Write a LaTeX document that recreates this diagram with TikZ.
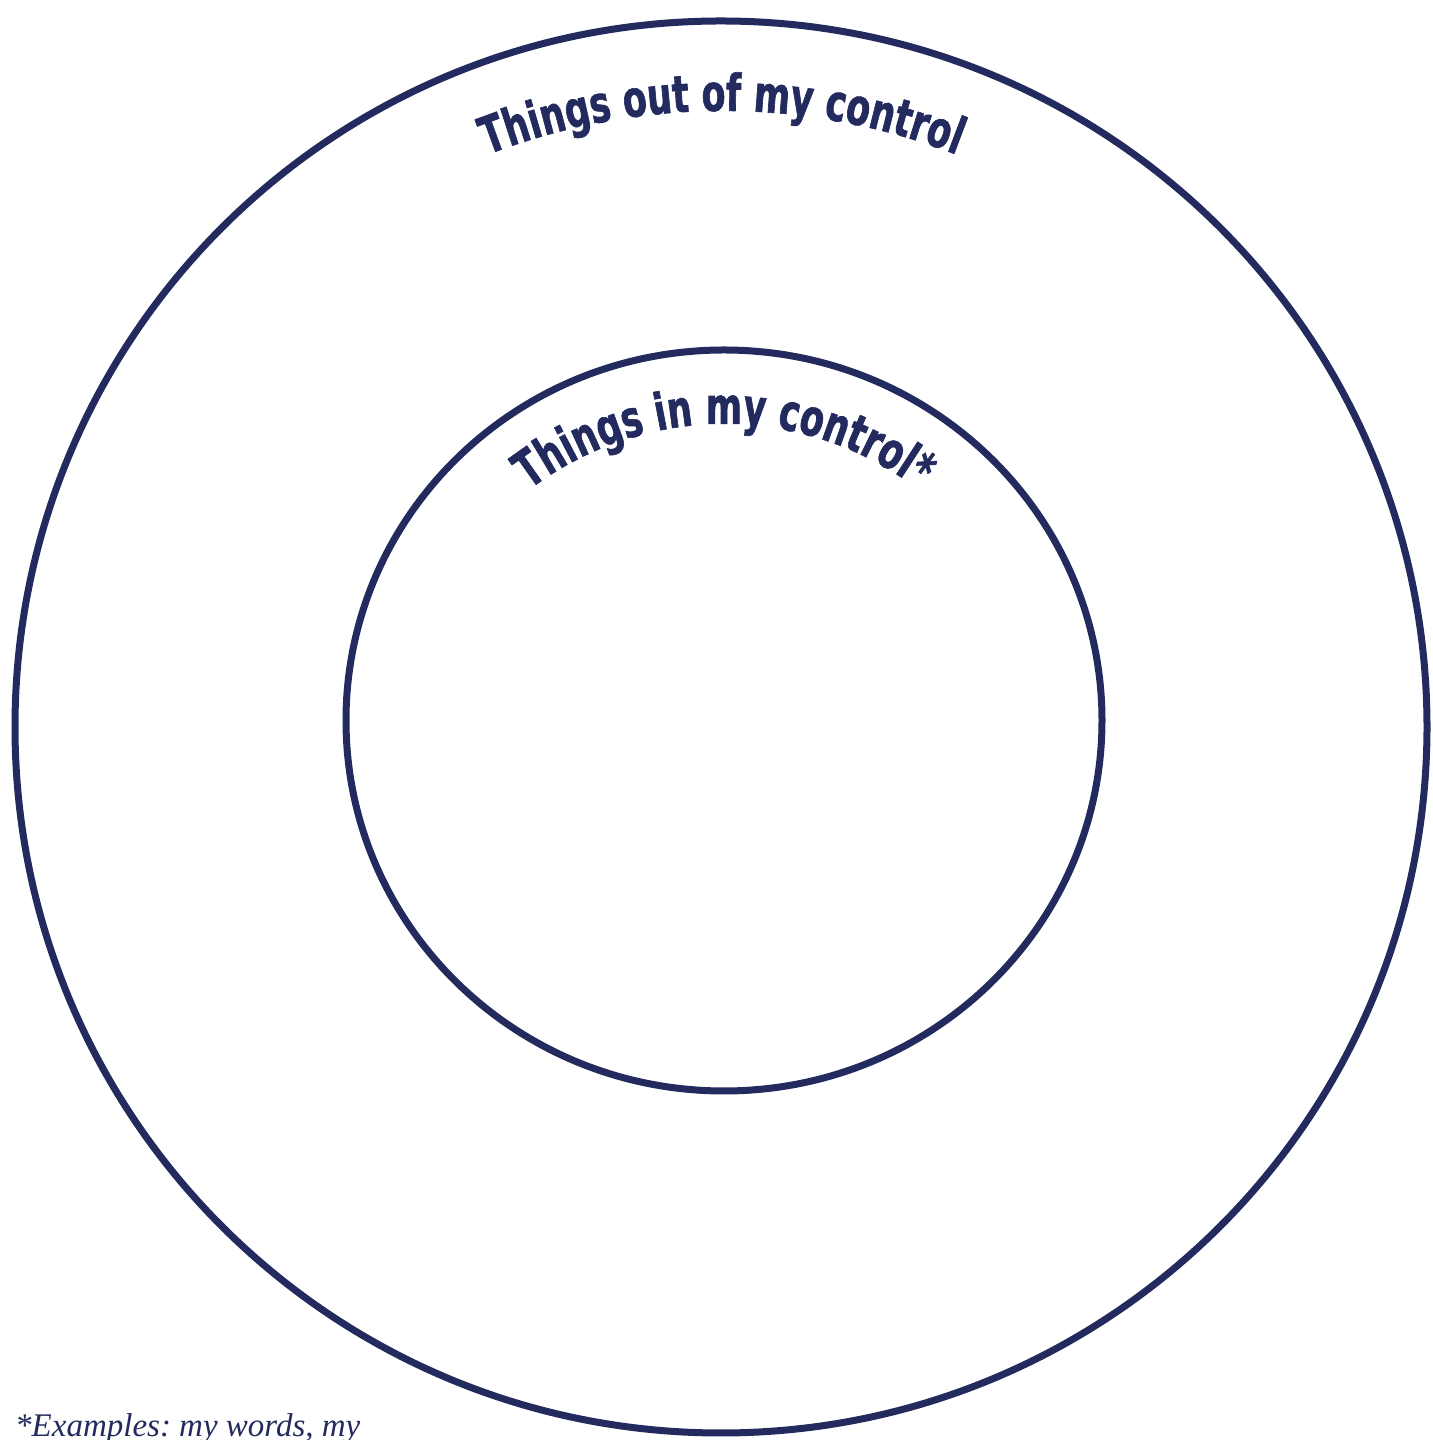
\documentclass[tikz,border=0pt]{standalone}
\usepackage{fontspec}
\usetikzlibrary{decorations.text}
\newfontfamily\osw[FakeStretch=0.68,FakeBold=1.2]{DejaVu Sans}
\newfontfamily\footserif{Liberation Serif}
\definecolor{navy}{HTML}{232A5E}
\frenchspacing
\begin{document}
\begin{tikzpicture}[x=1pt,y=1pt,
  ring/.style={draw=navy,line width=7pt},
  arclabel/.style={decorate,decoration={text along path,text align=center,text color=navy}}]
\useasboundingbox (0,0) rectangle (1432,1440);
\draw[ring] (721,713) circle[radius=706];
\draw[ring] (724,719.5) ellipse[x radius=378,y radius=370.5];
\path[arclabel,decoration={text={|\osw\bfseries\fontsize{51}{60}\selectfont|Things out of my control}}]
  (722,679) ++(150:650) arc[start angle=150,end angle=30,radius=650];
\path[arclabel,decoration={text={|\osw\bfseries\fontsize{51}{60}\selectfont|Things in my control*}}]
  (724,695) ++(160:321) arc[start angle=160,end angle=20,radius=321];
\node[anchor=base west,inner sep=0pt,text=navy,font=\footserif\itshape\fontsize{33}{38}\selectfont] (foot) at (15,4) {*Examples: my words, my};
\end{tikzpicture}
\end{document}
